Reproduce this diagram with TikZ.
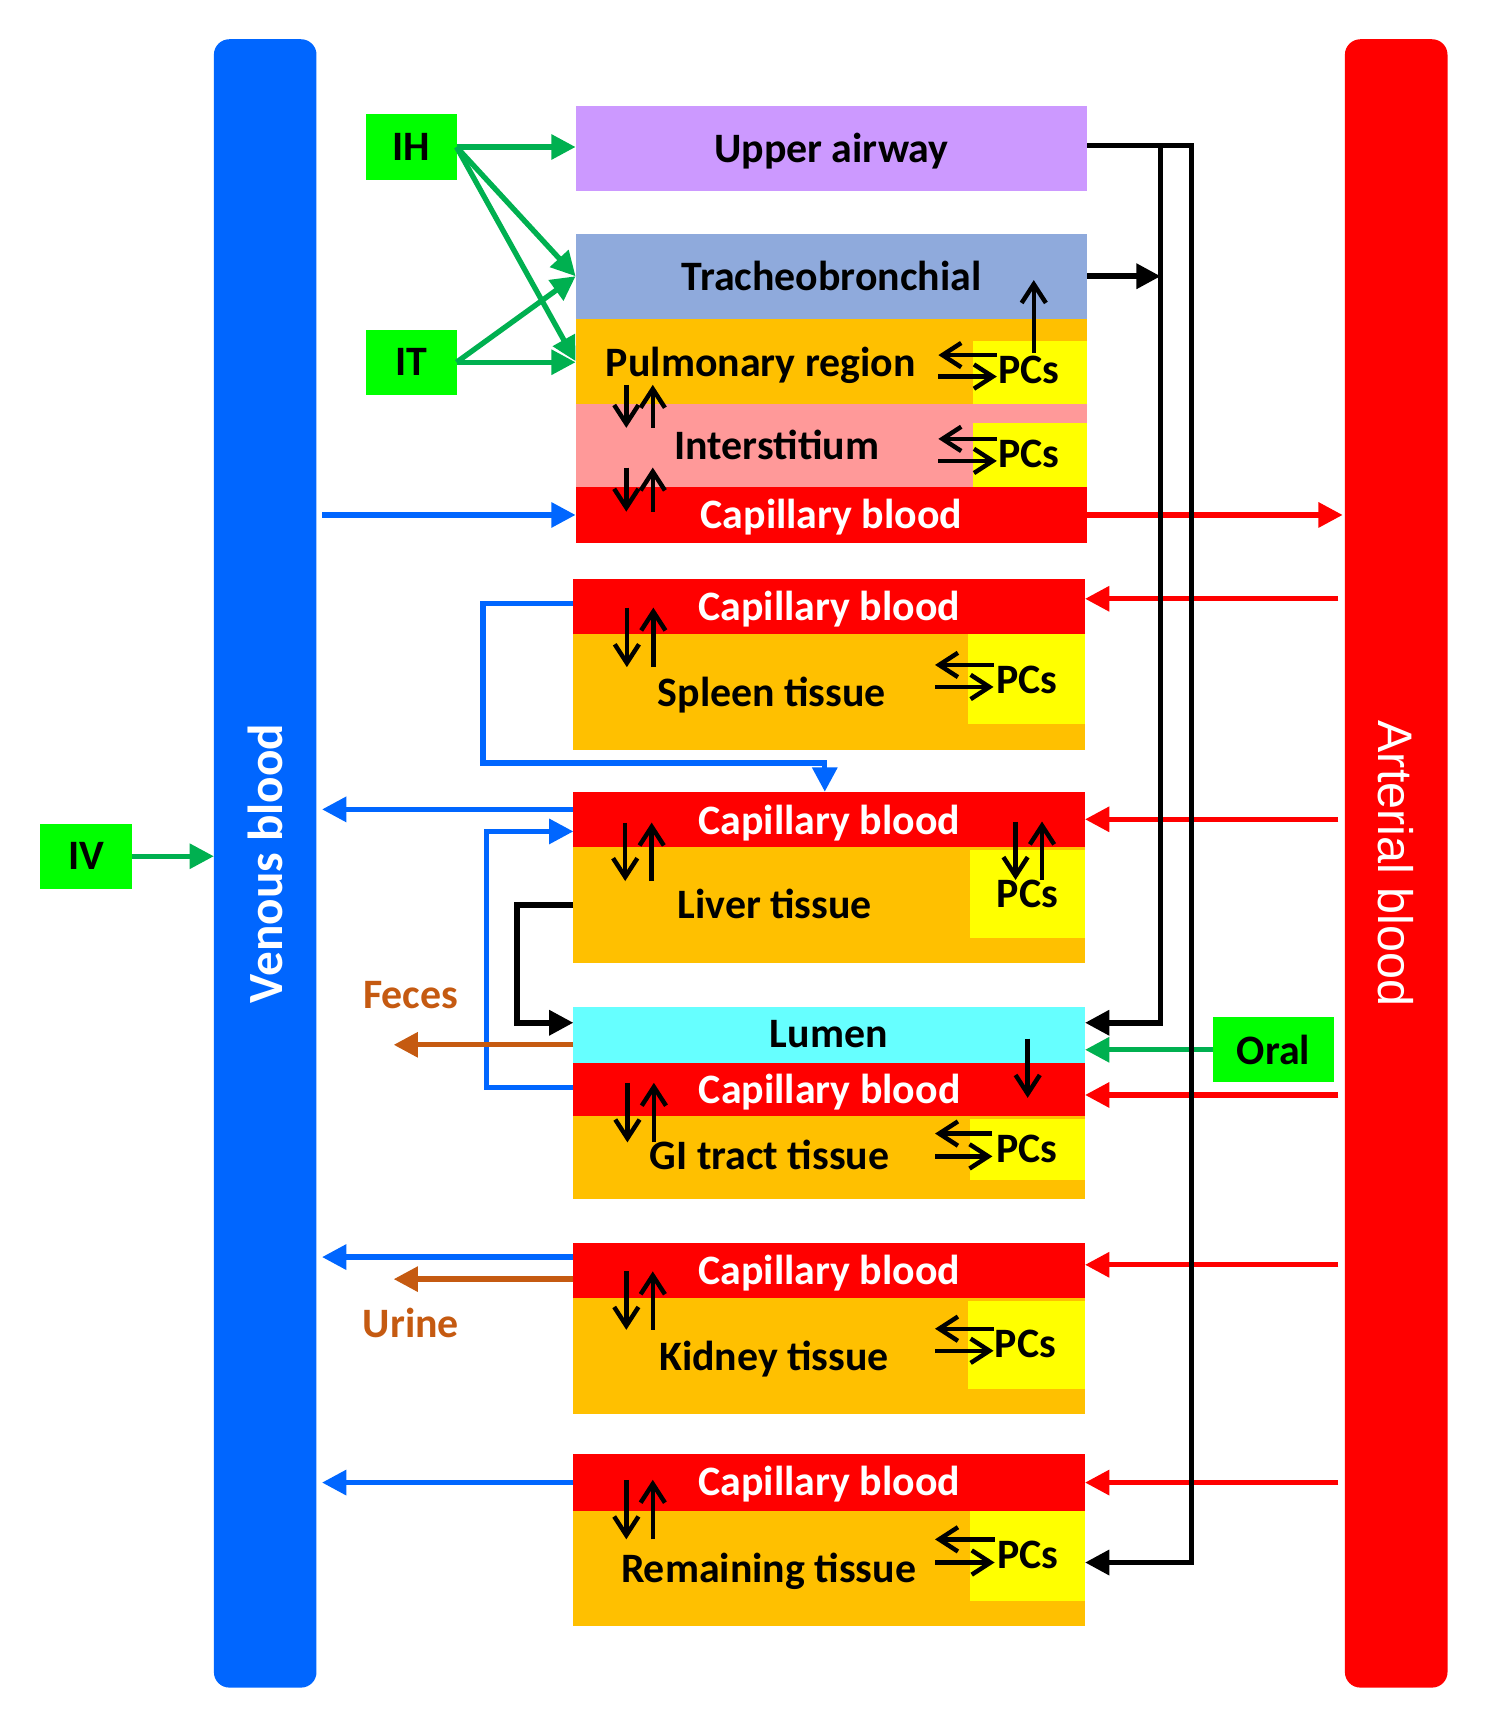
\documentclass[tikz,border=0pt]{standalone}
\usepackage{fontspec}
\setmainfont{Carlito}
\newfontfamily\arialfont{Liberation Sans}
\usetikzlibrary{arrows.meta,calc,positioning}

\definecolor{venblue}{HTML}{0066FF}
\definecolor{artred}{HTML}{FF0000}
\definecolor{lavender}{HTML}{CC99FF}
\definecolor{tbblue}{HTML}{8FAADC}
\definecolor{tissue}{HTML}{FFC000}
\definecolor{intpink}{HTML}{FF9999}
\definecolor{lumcyan}{HTML}{66FFFF}
\definecolor{pcyellow}{HTML}{FFFF00}
\definecolor{routegreen}{HTML}{00FF00}
\definecolor{arrgreen}{HTML}{00B050}
\definecolor{excbrown}{HTML}{C55A11}

\tikzset{
  slab/.style={rectangle, inner sep=0pt, outer sep=0pt},
  bar/.style={rectangle, rounded corners=0.14cm, inner sep=0pt, outer sep=0pt,
    minimum width=0.93cm, minimum height=14.94cm},
  route/.style={rectangle, fill=routegreen, inner sep=0pt, outer sep=0pt,
    minimum height=0.59cm, font=\bfseries\fontsize{10.8}{12}\selectfont},
  lbl/.style={anchor=base, inner sep=0pt, font=\bfseries\fontsize{10.8}{12}\selectfont},
  wlbl/.style={lbl, text=white},
  flow/.style={line width=1.37pt, -{Triangle[length=0.22cm,width=0.22cm]}},
  garr/.style={flow, draw=arrgreen},
  barr/.style={flow, draw=venblue},
  rarr/.style={flow, draw=artred},
  brarr/.style={flow, draw=excbrown},
  karr/.style={flow, draw=black, line width=1.45pt},
  sarr/.style={line width=1.15pt, -{Straight Barb[length=0.17cm,width=0.22cm]}},
}

% name, x1, y1, x2, y2, colour
\newcommand{\slab}[6]{\node[slab, fill=#6, minimum width={(#4-#2)*0.01cm},
  minimum height={(#5-#3)*0.01cm}] (#1) at ({(#2+#4)/2},{(#3+#5)/2}) {};}
% x, y top, y bottom
\newcommand{\pairud}[3]{\draw[sarr] (#1,#2) -- (#1,#3);
  \draw[sarr] ({#1+24},#3) -- ({#1+24},#2);}
% x left, x right, y upper, y lower
\newcommand{\exch}[4]{\draw[sarr] (#2,#3) -- (#1,#3);
  \draw[sarr] (#1,#4) -- (#2,#4);}

\begin{document}
\begin{tikzpicture}[x=0.01cm, y=-0.01cm]
    \useasboundingbox (0,0) rectangle (1368,1568);

    \node[bar, fill=venblue] (ven) at (240.5,783) {};
    \node[bar, fill=artred] (art) at (1266.2,783) {};
    \node[rotate=90, text=white, font=\bfseries\fontsize{12.7}{14}\selectfont] (ven-t) at (ven) {Venous blood};
    \node[rotate=-90, text=white, font=\arialfont\fontsize{12.5}{14}\selectfont] (art-t) at (art) {Arterial blood};

    \node[route, minimum width=0.84cm] (iv) at (78,776.5) {IV};
    \node[route, minimum width=0.82cm] (ih) at (373,133.3) {IH};
    \node[route, minimum width=0.82cm] (it) at (373,328.5) {IT};
    \node[route, minimum width=1.09cm] (oral) at (1155,952) {Oral};

    % lung
    \slab{ua}{522}{96}{986}{173}{lavender}
    \slab{tb}{522}{212}{986}{289}{tbblue}
    \slab{pul}{522}{289}{986}{366}{tissue}
    \slab{pulpc}{882}{309}{986}{366}{pcyellow}
    \slab{int}{522}{366}{986}{442}{intpink}
    \slab{intpc}{882}{384}{986}{442}{pcyellow}
    \slab{lcap}{522}{442}{986}{492}{artred}

    % spleen
    \slab{scap}{520}{525}{984}{575}{artred}
    \slab{st}{520}{575}{984}{680}{tissue}
    \slab{spc}{878}{575}{984}{657}{pcyellow}
    % liver
    \slab{hcap}{520}{718}{984}{768}{artred}
    \slab{ht}{520}{768}{984}{873}{tissue}
    \slab{hpc}{880}{771}{984}{851}{pcyellow}
    % gut
    \slab{lum}{520}{913}{984}{964}{lumcyan}
    \slab{gcap}{520}{964}{984}{1012}{artred}
    \slab{gt}{520}{1012}{984}{1087}{tissue}
    \slab{gpc}{880}{1015}{984}{1070}{pcyellow}
    % kidney
    \slab{kcap}{520}{1127}{984}{1177}{artred}
    \slab{kt}{520}{1177}{984}{1282}{tissue}
    \slab{kpc}{878}{1180}{984}{1260}{pcyellow}
    % remaining
    \slab{rcap}{520}{1319}{984}{1370}{artred}
    \slab{rt}{520}{1370}{984}{1475}{tissue}
    \slab{rpc}{880}{1370}{984}{1452}{pcyellow}

    \node[lbl] (ua-t) at (754,147.5) {Upper airway};
    \node[lbl] (tb-t) at (754,263) {Tracheobronchial};
    \node[lbl] (pul-t) at (690,341) {Pulmonary region};
    \node[lbl] (pulpc-t) at (933,348) {PCs};
    \node[lbl] (int-t) at (704.5,417) {Interstitium};
    \node[lbl] (intpc-t) at (933,424) {PCs};
    \node[wlbl] (lcap-t) at (754,479) {Capillary blood};

    \node[wlbl] (scap-t) at (752,563) {Capillary blood};
    \node[lbl] (st-t) at (700,641) {Spleen tissue};
    \node[lbl] (spc-t) at (931,628.5) {PCs};

    \node[wlbl] (hcap-t) at (752,756.5) {Capillary blood};
    \node[lbl] (ht-t) at (702.6,833) {Liver tissue};
    \node[lbl] (hpc-t) at (931.7,823) {PCs};

    \node[lbl] (lum-t) at (751.6,950) {Lumen};
    \node[wlbl] (gcap-t) at (752.4,1001) {Capillary blood};
    \node[lbl] (gt-t) at (698,1061) {GI tract tissue};
    \node[lbl] (gpc-t) at (931,1054) {PCs};

    \node[wlbl] (kcap-t) at (752,1164.5) {Capillary blood};
    \node[lbl] (kt-t) at (702,1243) {Kidney tissue};
    \node[lbl] (kpc-t) at (930,1231) {PCs};

    \node[wlbl] (rcap-t) at (752,1356.5) {Capillary blood};
    \node[lbl] (rt-t) at (697,1435) {Remaining tissue};
    \node[lbl] (rpc-t) at (932,1422.6) {PCs};

    \node[lbl, text=excbrown] (feces) at (372.5,915) {Feces};
    \node[lbl, text=excbrown] (urine) at (372.6,1213) {Urine};

    % dosing routes
    \draw[garr] (iv.east) -- (iv.east -| ven.west);
    \draw[garr] (ih.east) -- (ih.east -| ua.west);
    \draw[garr] (ih.east) -- (tb.west);
    \draw[garr] (ih.east) -- (pul.west);
    \draw[garr] (it.east) -- (tb.west);
    \draw[garr] (it.east) -- (it.east -| pul.west);
    \draw[garr] (oral.west) -- (oral.west -| lum.east);

    % blood flow
    \draw[barr, shorten <=0.05cm] (lcap.west -| ven.east) -- (lcap.west);
    \draw[rarr, shorten >=0.02cm] (lcap.east) -- (lcap.east -| art.west);
    \draw[rarr, shorten <=0.06cm] ($(art.west |- scap.east)+(0,-7)$) -- ($(scap.east)+(0,-7)$);
    \draw[rarr, shorten <=0.06cm] (art.west |- hcap.east) -- (hcap.east);
    \draw[rarr, shorten <=0.06cm] ($(art.west |- gcap.east)+(0,5)$) -- ($(gcap.east)+(0,5)$);
    \draw[rarr, shorten <=0.06cm] ($(art.west |- kcap.east)+(0,-5)$) -- ($(kcap.east)+(0,-5)$);
    \draw[rarr, shorten <=0.06cm] (art.west |- rcap.east) -- (rcap.east);

    \draw[barr, shorten >=0.05cm] ($(hcap.west)+(0,-9)$) -- ($(ven.east |- hcap.west)+(0,-9)$);
    \draw[barr, shorten >=0.05cm] ($(kcap.west)+(0,-12)$) -- ($(ven.east |- kcap.west)+(0,-12)$);
    \draw[barr, shorten >=0.05cm] (rcap.west) -- (ven.east |- rcap.west);

    \coordinate (sbend) at (438,692);
    \draw[barr] ($(scap.west)+(0,-3)$) -| (sbend) -| ($(hcap.north)+(-4,0)$);
    \coordinate (gbend) at (441,754);
    \draw[barr] ($(gcap.west)+(0,-2)$) -| (gbend) -- (gbend -| hcap.west);

    % excretion
    \coordinate (bbend) at (468.6,820.5);
    \draw[karr] (ht.west) -- (bbend) |- ($(lum.west)+(0,-11)$);
    \coordinate (fecesend) at (357,947.5);
    \draw[brarr] (lum.west |- fecesend) -- (fecesend);
    \coordinate (urineend) at (357,1160);
    \draw[brarr] (kcap.west |- urineend) -- (urineend);

    % airway clearance
    \coordinate (innerbus) at (1052.6,132);
    \coordinate (outerbus) at (1080.7,132);
    \draw[karr] (ua.east |- innerbus) -- (outerbus) |- ($(rpc.east)+(0,6)$);
    \draw[karr] (innerbus) |- ($(lum.east)+(0,-11)$);
    \draw[karr] (tb.east) -- (tb.east -| innerbus);

    % exchange arrows
    \pairud{568}{349}{388}
    \pairud{568}{424}{464}
    \exch{851}{904}{322}{341.5}
    \exch{851}{904}{398}{418}
    \draw[sarr] (937.5,320) -- (937.5,254);
    \pairud{568.5}{551}{605}
    \exch{848}{901}{603}{623}
    \pairud{567}{746}{799}
    \pairud{921}{745}{798}
    \pairud{569}{982}{1036}
    \exch{848}{900}{1028}{1048.7}
    \draw[sarr] (932,942) -- (932,995.6);
    \pairud{568}{1153}{1206}
    \exch{848}{901}{1205}{1225}
    \pairud{568}{1342}{1396}
    \exch{848}{902}{1396}{1417}
\end{tikzpicture}
\end{document}
